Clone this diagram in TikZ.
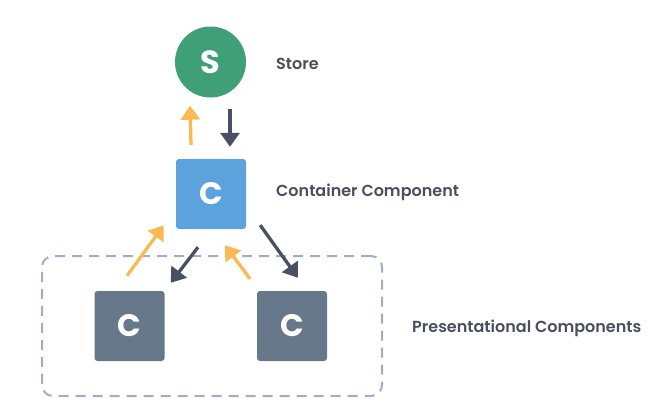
\documentclass[tikz,border=0pt]{standalone}
\usepackage{fontspec}
\setmainfont{Poppins}[BoldFont={Poppins SemiBold}]
\newfontfamily\letterfont{Poppins Bold}
\usetikzlibrary{arrows.meta, positioning}

\definecolor{storegreen}{HTML}{3FA078}
\definecolor{contblue}{HTML}{5CA3DD}
\definecolor{presgray}{HTML}{66788A}
\definecolor{txtgray}{HTML}{4A4E5E}
\definecolor{arrdark}{HTML}{4A5063}
\definecolor{arrorange}{HTML}{FBB954}
\definecolor{grpblue}{HTML}{9EADC8}

\begin{document}
\begin{tikzpicture}[x=1pt, y=-1pt,
    circ/.style={circle, fill=storegreen, text=white, minimum size=71pt, inner sep=0pt,
        font=\fontsize{32}{34}\letterfont},
    cbox/.style={rounded corners=3pt, text=white, minimum size=70pt, inner sep=0pt,
        font=\fontsize{31}{34}\letterfont},
    caption/.style={anchor=west, text=txtgray, inner sep=0pt,
        font=\fontsize{16}{20}\selectfont\bfseries},
    group/.style={draw=grpblue, dashed, dash pattern=on 10pt off 7pt, line width=2pt,
        rounded corners=11pt, minimum width=340pt, minimum height=140pt},
    uparr/.style={draw=arrorange, line width=3.3pt, -{Triangle[length=14pt, width=19pt]}},
    dnarr/.style={draw=arrdark, line width=3.3pt, -{Triangle[length=14pt, width=19pt]}}]
    \useasboundingbox (0,0) rectangle (666,410);

    \node[group] (grp) at (212,326) {};

    \node[circ] (store) at (210.5,62) {S};
    \node[cbox, fill=contblue] (cont) at (211,194) {C};
    \foreach \n/\x in {left/129.5, right/292}
        \node[cbox, fill=presgray] (\n) at (\x,326) {C};

    \node[caption] (storetxt) at (276,64) {Store};
    \node[caption] (conttxt) at (276,192) {Container Component};
    \node[caption] (prestxt) at (412,328) {Presentational Components};

    \draw[uparr] ([xshift=-20pt, yshift=14pt]cont.north) -- ([xshift=-20.5pt, yshift=-8pt]store.south);
    \draw[dnarr] ([xshift=19.5pt, yshift=-11pt]store.south) -- ([xshift=19pt, yshift=12pt]cont.north);

    \draw[uparr] ([xshift=-2.5pt, yshift=15pt]left.north) -- ([xshift=-12pt, yshift=4pt]cont.south west);
    \draw[dnarr] ([xshift=-13pt, yshift=-18pt]cont.south) -- ([xshift=6pt, yshift=8pt]left.north east);
    \draw[uparr] ([xshift=-42pt, yshift=12pt]right.north) -- ([xshift=14pt, yshift=-16pt]cont.south);
    \draw[dnarr] ([xshift=14pt, yshift=4pt]cont.south east) -- ([xshift=6pt, yshift=13pt]right.north);
\end{tikzpicture}
\end{document}
